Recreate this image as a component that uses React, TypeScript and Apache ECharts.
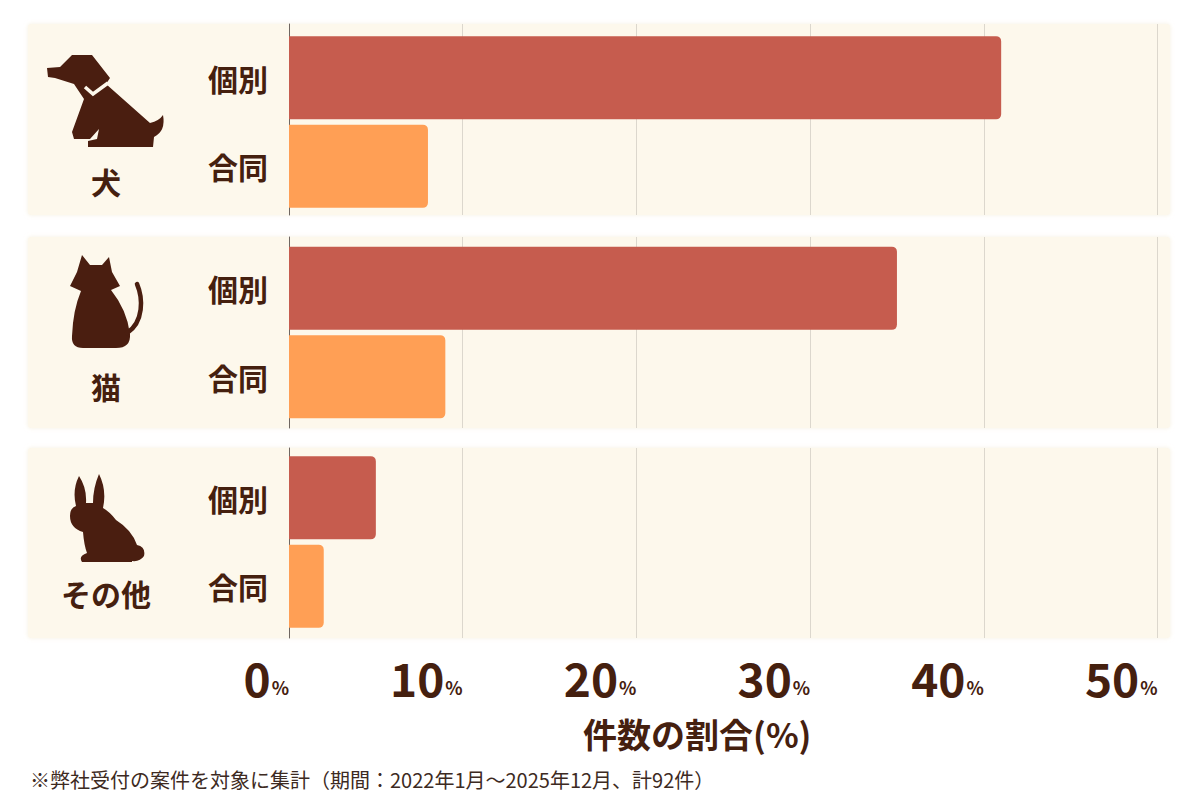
import { useEffect, useRef } from 'react';
import * as echarts from 'echarts';

const animals = ['犬', '猫', 'その他'];
const caseTypes = ['個別', '合同'];
const individualShare = [41, 35, 5];
const jointShare = [8, 9, 2];
const axisTitle = '件数の割合(%)';
const footnote = '※弊社受付の案件を対象に集計（期間：2022年1月～2025年12月、計92件）';

const FONT = '"Noto Sans CJK JP", "Noto Sans", sans-serif';
const TEXT = '#45200f';
const ICON = '#4a1e10';
const PANEL = '#fdf8ec';
const RED = '#c65c4e';
const ORANGE = '#ff9f55';

// panel boxes (background) and bar bands, in px
const panels = [
  { top: 24, bottom: 215, barTop: 33.5, barBottom: 210.5, labelY: 181 },
  { top: 237, bottom: 428, barTop: 244, barBottom: 421, labelY: 386 },
  { top: 448, bottom: 638, barTop: 453.5, barBottom: 630.5, labelY: 593 },
];
const AXIS_LEFT = 289;
const AXIS_WIDTH = 868.5;

echarts.graphic.registerShape(
  'dog',
  echarts.graphic.extendPath(
    'M47 68L60 67L72 55L92 55L110 78L106 84L150 123Q159 121 163 115Q166 131 154 137L153 147L88 147L88 141L97 139L99 129L90 139L74 139L72 132L84 99L74 84L55 78L48 77Z',
    {}
  )
);
echarts.graphic.registerShape(
  'cat',
  echarts.graphic.extendPath(
    'M82 255L90 265L102 265L109 257L112 272L120 286L111 290Q127 310 130 334Q131 348 116 348L83 348Q71 348 72 336Q73 310 81 291L70 286L77 272Z',
    {}
  )
);
echarts.graphic.registerShape(
  'rabbit',
  echarts.graphic.extendPath(
    'M76 506Q72 490 79 476Q87 488 86 503L93 503Q93 488 99 474Q107 490 103 508Q110 512 116 520Q132 530 137 545Q146 547 144 556Q140 562 132 561L132 562L82 562Q78 556 87 553Q84 545 83 532Q70 528 70 516Q70 508 76 506Z',
    {}
  )
);

export default function App() {
  const chartRef = useRef<HTMLDivElement>(null);

  useEffect(() => {
    if (!chartRef.current) return;
    const chart = echarts.init(chartRef.current, undefined, { renderer: 'svg' });

    const grids: any[] = [];
    const xAxes: any[] = [];
    const yAxes: any[] = [];
    const series: any[] = [];

    panels.forEach((p, i) => {
      const last = i === panels.length - 1;
      // background grid: gridlines + zero line
      grids.push({ left: AXIS_LEFT, width: AXIS_WIDTH, top: p.top, height: p.bottom - p.top });
      xAxes.push({
        gridIndex: grids.length - 1,
        type: 'value',
        min: 0,
        max: 50,
        interval: 10,
        axisLine: { show: false },
        axisTick: { show: false },
        splitLine: { show: true, lineStyle: { color: '#dcd7cd', width: 1 } },
        axisLabel: last
          ? {
              show: true,
              align: 'right',
              margin: 12,
              formatter: (v: number) => `{n|${v}}{p|%}`,
              rich: {
                n: { fontSize: 46, fontWeight: 'bold', color: TEXT, fontFamily: FONT, lineHeight: 50, verticalAlign: 'bottom' },
                p: { fontSize: 18, fontWeight: 'bold', color: TEXT, fontFamily: FONT, lineHeight: 50, verticalAlign: 'bottom', padding: [0, 0, 4, 1] },
              },
            }
          : { show: false },
        name: last ? axisTitle : '',
        nameLocation: 'middle',
        nameGap: 78,
        nameTextStyle: {
          fontSize: 34,
          fontWeight: 'bold',
          color: TEXT,
          fontFamily: FONT,
          padding: [0, 52, 0, 0],
        },
      });
      yAxes.push({
        gridIndex: grids.length - 1,
        type: 'value',
        min: 0,
        max: 1,
        axisLine: { show: true, lineStyle: { color: '#6f6660', width: 1 } },
        axisTick: { show: false },
        axisLabel: { show: false },
        splitLine: { show: false },
      });

      // bar grid
      grids.push({ left: AXIS_LEFT, width: AXIS_WIDTH, top: p.barTop, height: p.barBottom - p.barTop });
      const gi = grids.length - 1;
      xAxes.push({ gridIndex: gi, type: 'value', min: 0, max: 50, show: false });
      yAxes.push({
        gridIndex: gi,
        type: 'category',
        inverse: true,
        data: caseTypes,
        axisLine: { show: false },
        axisTick: { show: false },
        axisLabel: {
          margin: 21,
          fontSize: 30,
          fontWeight: 'bold',
          color: TEXT,
          fontFamily: FONT,
        },
      });
      series.push({
        type: 'bar',
        name: animals[i],
        xAxisIndex: xAxes.length - 1,
        yAxisIndex: yAxes.length - 1,
        barCategoryGap: '6%',
        itemStyle: { borderRadius: [0, 5, 5, 0] },
        data: [
          { value: individualShare[i], itemStyle: { color: RED } },
          { value: jointShare[i], itemStyle: { color: ORANGE } },
        ],
      });
    });

    const graphic: any[] = [];
    panels.forEach((p) => {
      graphic.push({
        type: 'rect',
        z: -10,
        shape: { x: 28, y: p.top, width: 1142, height: p.bottom - p.top, r: 3 },
        style: { fill: PANEL, shadowBlur: 4, shadowColor: 'rgba(240,230,205,0.6)' },
      });
    });
    graphic.push(
      { type: 'dog', x: 0, y: 0, z: 5, style: { fill: ICON } },
      {
        type: 'polyline',
        z: 6,
        shape: { points: [[85, 87], [93, 94], [108, 83]] },
        style: { stroke: PANEL, lineWidth: 3.5, fill: null },
      },
      { type: 'cat', x: 0, y: 0, z: 5, style: { fill: ICON } },
      {
        type: 'bezierCurve',
        z: 5,
        shape: { x1: 127, y1: 333, cpx1: 144, cpy1: 322, cpx2: 143, cpy2: 298, x2: 137, y2: 284 },
        style: { stroke: ICON, lineWidth: 4.5, fill: null, lineCap: 'round' },
      },
      { type: 'rabbit', x: 0, y: 0, z: 5, style: { fill: ICON } }
    );
    panels.forEach((p, i) => {
      graphic.push({
        type: 'text',
        z: 5,
        x: 106,
        y: p.labelY,
        style: {
          text: animals[i],
          align: 'center',
          verticalAlign: 'middle',
          fontSize: 30,
          fontWeight: 'bold',
          fontFamily: FONT,
          fill: TEXT,
        },
      });
    });
    graphic.push({
      type: 'text',
      z: 5,
      x: 30,
      y: 779,
      style: {
        text: footnote,
        align: 'left',
        verticalAlign: 'middle',
        fontSize: 20,
        fontFamily: FONT,
        fill: '#3d2a22',
      },
    });

    chart.setOption({
      animation: false,
      backgroundColor: '#ffffff',
      grid: grids,
      xAxis: xAxes,
      yAxis: yAxes,
      series,
      graphic,
    });

    return () => {
      chart.dispose();
    };
  }, []);

  return (
    <div
      ref={chartRef}
      style={{ position: 'fixed', left: 0, top: 0, width: 1200, height: 800, background: '#fff' }}
    />
  );
}
